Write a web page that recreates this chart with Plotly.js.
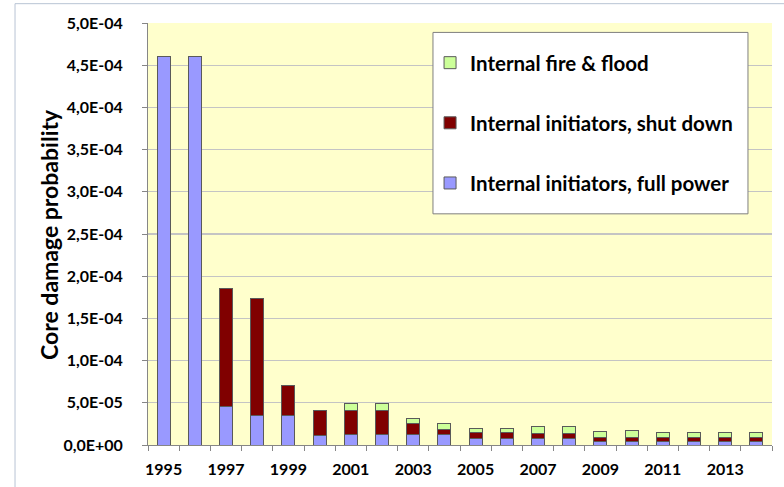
<!DOCTYPE html>
<html>
<head>
<meta charset="utf-8">
<script src="https://cdn.plot.ly/plotly-3.0.1.min.js"></script>
<style>
html,body{margin:0;padding:0;background:#fff;}
#chart{width:784px;height:487px;}
</style>
</head>
<body>
<div id="chart"></div>
<script>
const years = ['1995','1996','1997','1998','1999','2000','2001','2002','2003','2004',
               '2005','2006','2007','2008','2009','2010','2011','2012','2013','2014'];
const yearLabels = ['1995','','1997','','1999','','2001','','2003','',
                    '2005','','2007','','2009','','2011','','2013',''];
const fullPower = [4.6e-4, 4.6e-4, 4.6e-5, 3.5e-5, 3.5e-5, 1.1e-5, 1.2e-5, 1.2e-5, 1.2e-5, 1.2e-5,
                   8.0e-6, 8.0e-6, 8.0e-6, 8.0e-6, 4.4e-6, 4.4e-6, 4.4e-6, 4.4e-6, 4.4e-6, 4.4e-6];
const shutDown = [null, null, 1.40e-4, 1.39e-4, 3.5e-5, 3.0e-5, 2.85e-5, 2.85e-5, 1.33e-5, 5.8e-6,
                  6.7e-6, 6.7e-6, 6.0e-6, 6.0e-6, 4.7e-6, 4.3e-6, 4.3e-6, 4.3e-6, 4.3e-6, 4.3e-6];
const fireFlood = [null, null, null, null, null, null, 8.3e-6, 8.3e-6, 6.4e-6, 7.1e-6,
                   4.4e-6, 4.4e-6, 7.5e-6, 7.5e-6, 6.7e-6, 7.9e-6, 6.3e-6, 6.3e-6, 6.3e-6, 6.3e-6];
const yTickVals = [0, 5e-5, 1e-4, 1.5e-4, 2e-4, 2.5e-4, 3e-4, 3.5e-4, 4e-4, 4.5e-4, 5e-4];
const yTickText = ['0,0E+00','5,0E-05','1,0E-04','1,5E-04','2,0E-04','2,5E-04',
                   '3,0E-04','3,5E-04','4,0E-04','4,5E-04','5,0E-04'];
const yTitle = 'Core damage probability';

const FONT = 'Lato, "Open Sans", sans-serif';
const outline = {color: '#5a5a5a', width: 1};

const traces = [
  {type: 'bar', name: 'Internal initiators, full power', x: years, y: fullPower,
   marker: {color: '#9999FF', line: outline}, legendgroup: 'a', legendrank: 3, hoverinfo: 'y'},
  {type: 'bar', name: 'Internal initiators, shut down', x: years, y: shutDown,
   marker: {color: '#800000', line: outline}, legendgroup: 'b', legendrank: 2, hoverinfo: 'y'},
  {type: 'bar', name: 'Internal fire & flood', x: years, y: fireFlood,
   marker: {color: '#CCFF99', line: outline}, legendgroup: 'c', legendrank: 1, hoverinfo: 'y'}
];

const layout = {
  width: 784, height: 487,
  margin: {l: 148, r: 12, t: 23, b: 42, pad: 0},
  paper_bgcolor: '#ffffff',
  plot_bgcolor: '#FFFFCC',
  barmode: 'stack',
  bargap: 0.58,
  font: {family: FONT, color: '#000', size: 14},
  showlegend: true,
  legend: {
    x: 0.452, y: 0.953, xanchor: 'left', yanchor: 'top',
    bgcolor: 'rgba(0,0,0,0)', borderwidth: 0,
    traceorder: 'grouped', tracegroupgap: 30.5,
    font: {family: FONT, size: 20.5, color: '#000', weight: 'bold'}
  },
  xaxis: {
    type: 'category',
    tickmode: 'array', tickvals: years, ticktext: yearLabels,
    tickson: 'boundaries', tickangle: 0,
    ticks: 'outside', ticklen: 5, tickcolor: '#868686',
    showline: true, linecolor: '#868686', linewidth: 1,
    showgrid: false, zeroline: false,
    ticklabelstandoff: 10,
    tickfont: {family: FONT, size: 16, weight: 'bold', color: '#000'}
  },
  yaxis: {
    range: [0, 5e-4],
    tickmode: 'array', tickvals: yTickVals, ticktext: yTickText,
    ticks: 'outside', ticklen: 5, tickcolor: '#868686',
    showline: true, linecolor: '#868686', linewidth: 1,
    showgrid: true, gridcolor: '#C4C4C4', gridwidth: 1.3,
    zeroline: false,
    ticklabelstandoff: 16,
    tickfont: {family: FONT, size: 16, weight: 'bold', color: '#000'}
  },
  annotations: [
    {text: yTitle, xref: 'paper', yref: 'paper', x: -0.1587, y: 0.5,
     xanchor: 'center', yanchor: 'middle', textangle: -90, showarrow: false,
     font: {family: FONT, size: 23, weight: 'bold', color: '#000'}}
  ],
  shapes: [
    {type: 'rect', xref: 'paper', yref: 'paper', layer: 'above',
     x0: 0.4567, x1: 0.9615, y0: 0.5478, y1: 0.9777,
     fillcolor: '#ffffff', line: {color: '#7f7f7f', width: 1}},
    {type: 'rect', xref: 'paper', yref: 'paper', layer: 'below',
     x0: -0.2131, x1: 1.2, y0: -0.3, y1: 1.0458,
     fillcolor: 'rgba(0,0,0,0)', line: {color: '#B8C4D4', width: 1}}
  ]
};

Plotly.newPlot('chart', traces, layout, {displayModeBar: false, staticPlot: true});
</script>
</body>
</html>
